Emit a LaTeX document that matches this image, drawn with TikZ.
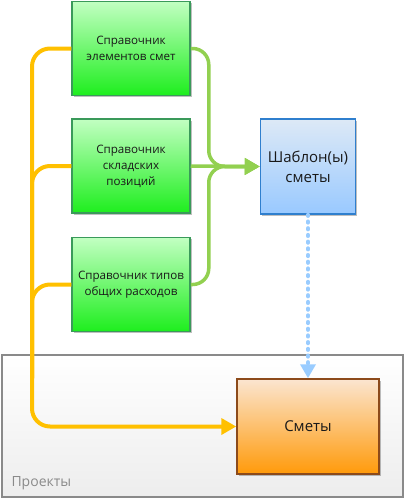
\documentclass[tikz,border=0pt]{standalone}
\usepackage{fontspec}
\setmainfont{Open Sans}
\usetikzlibrary{arrows.meta,shadows}

\definecolor{refborder}{HTML}{3A9A5A}
\definecolor{reftop}{HTML}{C2FFC2}
\definecolor{refbottom}{HTML}{1EEE1E}
\definecolor{tmplborder}{HTML}{2F7FCE}
\definecolor{tmpltop}{HTML}{DDE9F6}
\definecolor{tmplbottom}{HTML}{99C9FF}
\definecolor{smetaborder}{HTML}{8C4A1A}
\definecolor{smetatop}{HTML}{FBE5D0}
\definecolor{smetabottom}{HTML}{FF9A0A}
\definecolor{projborder}{HTML}{8A8A8A}
\definecolor{greenline}{HTML}{92D050}
\definecolor{orangeline}{HTML}{FFC000}
\definecolor{blueline}{HTML}{99CCFF}

\begin{document}
\begin{tikzpicture}[x=1pt,y=-1pt,
  boxshadow/.style={drop shadow={shadow xshift=1.5pt,shadow yshift=-1.5pt,opacity=0.25,fill=black}},
  refbox/.style={draw=refborder, line width=1.5pt, top color=reftop, bottom color=refbottom,
    minimum width=118pt, minimum height=94pt, align=center, text=black!90,
    font=\fontsize{11.6}{16}\selectfont, boxshadow},
  tmplbox/.style={draw=tmplborder, line width=1.5pt, top color=tmpltop, bottom color=tmplbottom,
    minimum width=95pt, minimum height=95pt, align=center, text=black!90,
    font=\fontsize{15}{20}\selectfont, boxshadow},
  smetabox/.style={draw=smetaborder, line width=1.5pt, top color=smetatop, bottom color=smetabottom,
    minimum width=142pt, minimum height=95pt, align=center, text=black!90,
    font=\fontsize{15}{20}\selectfont, boxshadow},
  projbox/.style={draw=projborder, line width=1.5pt, top color=white, bottom color=black!7,
    minimum width=401pt, minimum height=142pt},
  feedline/.style={orangeline, line width=4pt, rounded corners=18pt},
  refline/.style={greenline, line width=3.5pt, rounded corners=16pt},
  tip/.style={-{Triangle[length=15pt,width=16pt]}},
  tmplline/.style={blueline, line width=4pt, line cap=round, dash pattern=on 1.2pt off 5.5pt,
    -{Triangle[length=14pt,width=15pt]}}]
\useasboundingbox (0,0) rectangle (406,501);

% container
\node[projbox] (proj) at (202.5,426) {};
\node[anchor=base west, text=projborder, font=\fontsize{14}{16}\selectfont] (projlabel) at (8,486) {Проекты};

% boxes
\node[refbox] (ref1) at (131,48.5) {Справочник\\элементов смет};
\node[refbox] (ref2) at (131,166) {Справочник\\складских\\позиций};
\node[refbox] (ref3) at (131,284.5) {Справочник типов\\общих расходов};
\node[tmplbox] (tmpl) at (308,166.5) {Шаблон(ы)\\сметы};
\node[smetabox] (smeta) at (308,426.5) {Сметы};

\coordinate (trunk) at (32,0);
\coordinate (merge) at ([xshift=18pt]ref1.east);

% links
\draw[feedline, tip] (ref1.west) -| (trunk |- smeta.west) -- (smeta.west);
\draw[feedline] (ref2.west) -| (trunk |- smeta.north);
\draw[feedline] (ref3.west) -| (trunk |- smeta.north);

\draw[refline, tip] (ref1.east) -| (merge |- tmpl.west) -- (tmpl.west);
\draw[refline, tip] (ref2.east) -- (tmpl.west);
\draw[refline, tip] (ref3.east) -| (merge |- tmpl.west) -- (tmpl.west);

\draw[tmplline] (tmpl.south) -- (smeta.north);
\end{tikzpicture}
\end{document}
